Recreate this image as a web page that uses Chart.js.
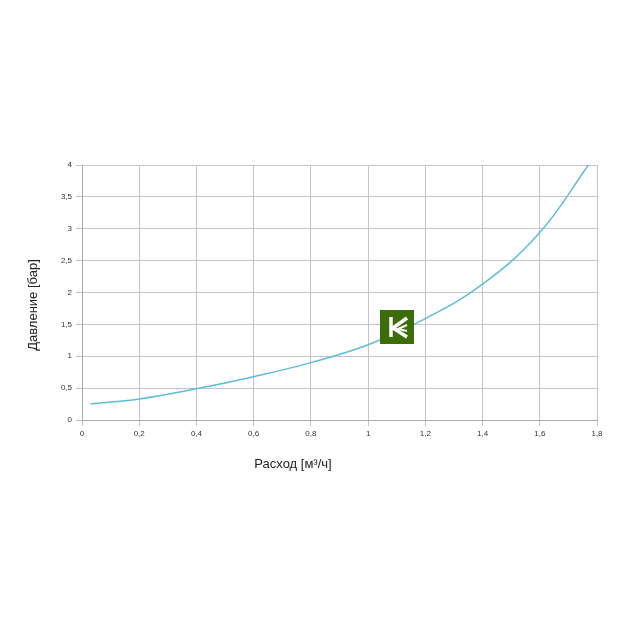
<!DOCTYPE html>
<html>
<head>
<meta charset="utf-8">
<script src="https://cdn.jsdelivr.net/npm/chart.js@4"></script>
<style>
  html, body { margin: 0; padding: 0; background: #fff; }
  #wrap { width: 624px; height: 624px; }
</style>
</head>
<body>
<div id="wrap"><canvas id="pressure_chart"></canvas></div>
<script>
// расход, м3/ч
const flowValues = [0.03, 0.2, 0.4, 0.6, 0.8, 1.0, 1.2, 1.4, 1.6, 1.77]
// давление, бар
const pressureValues = [0.25, 0.33, 0.49, 0.68, 0.90, 1.18, 1.59, 2.13, 2.94, 4.0]

const xTitle = "Расход [м³/ч]"
const yTitle = "Давление [бар]"

const ctx = document.querySelector("#pressure_chart")

function commaLabel(v) {
    return (Math.round(v * 10) / 10).toString().replace(".", ",")
}

// подписи осей и логотип
const decorPlugin = {
    id: "decor",
    afterDraw(chart) {
        const c = chart.ctx
        const area = chart.chartArea
        c.save()
        c.fillStyle = "#222"
        c.font = "13px 'Liberation Sans', Arial, sans-serif"
        c.textAlign = "center"
        c.textBaseline = "middle"
        c.fillText(xTitle, area.left + 211, area.bottom + 44)
        c.translate(33, area.top + 140)
        c.rotate(-Math.PI / 2)
        c.fillText(yTitle, 0, 0)
        c.restore()

        // логотип
        const lx = area.left + 298, ly = area.top + 145, s = 34
        c.save()
        c.fillStyle = "#3d6d0a"
        c.fillRect(lx, ly, s, s)
        c.strokeStyle = "#fff"
        c.lineWidth = 3.5
        c.lineCap = "butt"
        c.beginPath()
        c.moveTo(lx + 11, ly + 7)
        c.lineTo(lx + 11, ly + 27)
        c.moveTo(lx + 27, ly + 8)
        c.lineTo(lx + 13, ly + 18)
        c.lineTo(lx + 27, ly + 27)
        c.stroke()
        c.lineWidth = 2
        c.beginPath()
        c.moveTo(lx + 27, ly + 15)
        c.lineTo(lx + 18, ly + 19)
        c.lineTo(lx + 27, ly + 21)
        c.stroke()
        c.restore()
    }
}

const data = {
    datasets: [{
        data: flowValues.map((x, i) => ({ x: x, y: pressureValues[i] })),
        borderColor: "#5fbcd9",
        borderWidth: 1.5,
        pointRadius: 0,
        tension: 0.4,
        fill: false
    }]
}

const tickFont = { family: "'Liberation Sans', Arial, sans-serif", size: 8 }

const config = {
    type: "line",
    data: data,
    options: {
        responsive: true,
        maintainAspectRatio: false,
        animation: false,
        layout: { padding: { left: 0, top: 165, right: 27, bottom: 180 } },
        plugins: { legend: { display: false }, tooltip: { enabled: false } },
        scales: {
            x: {
                type: "linear",
                min: 0,
                max: 1.8,
                ticks: { stepSize: 0.2, color: "#333", font: tickFont, padding: 3, callback: commaLabel },
                grid: { color: "#c4c4c4", tickLength: 6 },
                border: { color: "#aaa" },
                afterFit(scale) { scale.height = 24 }
            },
            y: {
                min: 0,
                max: 4,
                ticks: { stepSize: 0.5, color: "#333", font: tickFont, padding: 4, callback: commaLabel },
                grid: { color: "#c4c4c4", tickLength: 6 },
                border: { color: "#aaa" },
                afterFit(scale) { scale.width = 82 }
            }
        }
    },
    plugins: [decorPlugin]
}

new Chart(ctx, config)
</script>
</body>
</html>
